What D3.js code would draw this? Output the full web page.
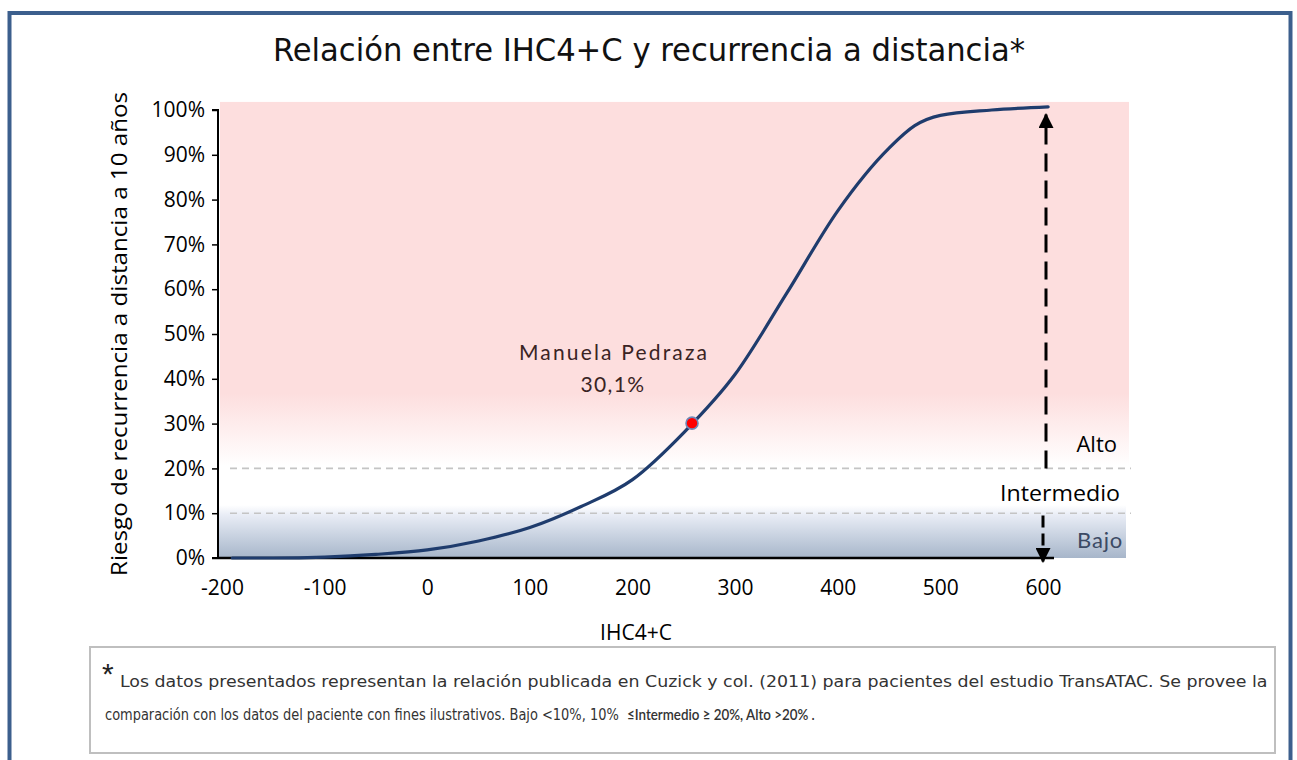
<!DOCTYPE html>
<html>
<head>
<meta charset="utf-8">
<script src="https://cdn.jsdelivr.net/npm/d3@7"></script>
<style>
  html, body { margin: 0; padding: 0; background: #ffffff; }
  svg { display: block; }
</style>
</head>
<body>
<svg id="chart" width="1297" height="760"></svg>
<script>
// ---- data ----
const titleText = "Relación entre IHC4+C y recurrencia a distancia*";
const xLabel = "IHC4+C";
const yLabel = "Riesgo de recurrencia a distancia a 10 años";
const xTicks = [-200, -100, 0, 100, 200, 300, 400, 500, 600];
const yTicks = [0, 10, 20, 30, 40, 50, 60, 70, 80, 90, 100];
const ihcValues = [-190, -150, -100, -50, 0, 50, 100, 150, 200, 250, 300, 350, 400, 450, 475, 500, 550, 605];
const riskValues = [0, 0, 0.2, 0.8, 1.8, 3.8, 6.8, 11.5, 17.5, 28, 41, 59, 77.5, 91.5, 96.5, 98.8, 100, 100.7];
const patientName = "Manuela Pedraza";
const patientLabel = "30,1%";
const patientIhc = 258;
const patientRisk = 30.1;
const thresholds = [10, 20];
const zoneNames = ["Alto", "Intermedio", "Bajo"];
const arrowsFrom = [20, 9.5];
const arrowsTo = [99, -0.8];
const footLine1 = "Los datos presentados representan la relación publicada en Cuzick y col. (2011) para pacientes del estudio TransATAC. Se provee  la";
const footLine2a = "comparación con los datos del paciente con fines ilustrativos. Bajo <10%, 10%";
const footLine2b = "≤Intermedio ≥ 20%, Alto >20% .";

// ---- layout ----
const svg = d3.select("#chart");
const x = d3.scaleLinear().domain([-200, 600]).range([222, 1043]);
const y = d3.scaleLinear().domain([0, 100]).range([558, 110]);
const axisX0 = 218;
const mainFont = "'Open Sans','Noto Sans',sans-serif";
const narrowFont = "'Liberation Sans Narrow','DejaVu Sans Condensed','DejaVu Sans',sans-serif";

// squeeze a text horizontally to a target width (keeps real text)
function fitWidth(sel, x0, y0, target) {
  sel.attr("x", 0).attr("y", 0);
  const w = sel.node().getComputedTextLength();
  const s = w > 0 ? target / w : 1;
  sel.attr("transform", `translate(${x0},${y0}) scale(${s},1)`);
  return sel;
}

const defs = svg.append("defs");
const pink = defs.append("linearGradient").attr("id", "pinkGrad").attr("x1", 0).attr("y1", 0).attr("x2", 0).attr("y2", 1);
pink.append("stop").attr("offset", "0").attr("stop-color", "#fddede");
pink.append("stop").attr("offset", "0.8").attr("stop-color", "#fddede");
pink.append("stop").attr("offset", "1").attr("stop-color", "#ffffff");
const blue = defs.append("linearGradient").attr("id", "blueGrad").attr("x1", 0).attr("y1", 0).attr("x2", 0).attr("y2", 1);
blue.append("stop").attr("offset", "0").attr("stop-color", "#ffffff");
blue.append("stop").attr("offset", "0.18").attr("stop-color", "#e9edf6");
blue.append("stop").attr("offset", "1").attr("stop-color", "#a7b6ca");
defs.append("marker").attr("id", "arrowHead").attr("viewBox", "0 0 10 10")
  .attr("refX", 9).attr("refY", 5).attr("markerWidth", 5).attr("markerHeight", 5)
  .attr("markerUnits", "strokeWidth").attr("orient", "auto")
  .append("path").attr("d", "M0,0 L10,5 L0,10 Z").attr("fill", "#000");

// outer frame
svg.append("rect").attr("x", 9.5).attr("y", 13).attr("width", 1281).attr("height", 800)
  .attr("fill", "none").attr("stroke", "#3c5f8d").attr("stroke-width", 4);

// title
svg.append("text").attr("x", 649).attr("y", 61).attr("text-anchor", "middle")
  .attr("font-family", narrowFont)
  .attr("font-size", 32).attr("fill", "#111")
  .attr("textLength", 752).attr("lengthAdjust", "spacingAndGlyphs")
  .text(titleText);

// background zones
svg.append("rect").attr("x", 220).attr("y", y(101.8)).attr("width", 1129 - 220)
  .attr("height", y(20.5) - y(101.8)).attr("fill", "url(#pinkGrad)");
svg.append("rect").attr("x", axisX0).attr("y", y(11.8)).attr("width", 1126 - axisX0)
  .attr("height", y(0) - y(11.8)).attr("fill", "url(#blueGrad)");

// dashed thresholds
svg.selectAll("line.thr").data(thresholds).join("line").attr("class", "thr")
  .attr("x1", 230).attr("x2", 1131).attr("y1", d => y(d)).attr("y2", d => y(d))
  .attr("stroke", "#c4c4c4").attr("stroke-width", 1.6).attr("stroke-dasharray", "7,5");

// y axis
const yAxis = d3.axisLeft(y).tickValues(yTicks).tickFormat(d => d + "%").tickSize(6).tickPadding(7);
const gy = svg.append("g").attr("transform", `translate(${axisX0},0)`).call(yAxis);
gy.select(".domain").attr("stroke", "#000").attr("stroke-width", 2).attr("d", `M-6,${y(100)}H0V${y(0)}H-6`);
gy.selectAll(".tick line").attr("stroke", "#000").attr("stroke-width", 1.5);
gy.selectAll(".tick text").attr("font-family", mainFont)
  .attr("font-size", 21).attr("fill", "#000");

// x axis
const xAxis = d3.axisBottom(x).tickValues(xTicks).tickFormat(d => String(d)).tickSize(0).tickPadding(22);
const gx = svg.append("g").attr("transform", `translate(0,${y(0)})`).call(xAxis);
gx.select(".domain").remove();
gx.selectAll(".tick text").attr("font-family", mainFont)
  .attr("font-size", 21).attr("fill", "#000");
svg.append("line").attr("x1", axisX0).attr("x2", 1054).attr("y1", y(0)).attr("y2", y(0))
  .attr("stroke", "#000").attr("stroke-width", 2.5);

// axis titles
svg.append("text").attr("x", 636).attr("y", 640).attr("text-anchor", "middle")
  .attr("font-family", mainFont).attr("font-size", 21).attr("fill", "#000")
  .text(xLabel);
svg.append("text").attr("transform", `translate(127,${334}) rotate(-90)`).attr("text-anchor", "middle")
  .attr("font-family", mainFont).attr("font-size", 21).attr("fill", "#000")
  .attr("textLength", 484).attr("lengthAdjust", "spacingAndGlyphs")
  .text(yLabel);

// curve
const pts = ihcValues.map((v, i) => [v, riskValues[i]]);
const line = d3.line().x(d => x(d[0])).y(d => y(d[1])).curve(d3.curveMonotoneX);
svg.append("path").datum(pts).attr("d", line).attr("fill", "none")
  .attr("stroke", "#1f3c6d").attr("stroke-width", 3.2).attr("stroke-linecap", "round");

// arrows
arrowsFrom.forEach((f, i) => {
  svg.append("line").attr("x1", x(600) + (i === 0 ? 3 : 0)).attr("x2", x(600) + (i === 0 ? 3 : 0))
    .attr("y1", y(f)).attr("y2", y(arrowsTo[i]))
    .attr("stroke", "#000").attr("stroke-width", 3)
    .attr("stroke-dasharray", i === 0 ? "18,9" : "12,6")
    .attr("marker-end", "url(#arrowHead)");
});

// zone labels
svg.append("text").attr("x", 1117).attr("y", y(20) - 16).attr("text-anchor", "end")
  .attr("font-family", mainFont).attr("font-size", 22).attr("fill", "#000")
  .text(zoneNames[0]);
svg.append("text").attr("x", 1120).attr("y", y(10) - 12).attr("text-anchor", "end")
  .attr("font-family", mainFont).attr("font-size", 22).attr("fill", "#000")
  .attr("textLength", 120).attr("lengthAdjust", "spacingAndGlyphs")
  .text(zoneNames[1]);
svg.append("text").attr("x", 1123).attr("y", y(0) - 10).attr("text-anchor", "end")
  .attr("font-family", "'Lato','Open Sans',sans-serif").attr("font-size", 22).attr("fill", "#3c4a64")
  .attr("letter-spacing", 0.8)
  .text(zoneNames[2]);

// patient point and annotation
svg.append("circle").attr("cx", x(patientIhc)).attr("cy", y(patientRisk)).attr("r", 6)
  .attr("fill", "#ff0000").attr("stroke", "#7088b8").attr("stroke-width", 1.6);
svg.append("text").attr("x", 613).attr("y", 360).attr("text-anchor", "middle")
  .attr("font-family", "'Lato','Open Sans',sans-serif").attr("font-size", 21).attr("fill", "#3a2424")
  .attr("textLength", 188).attr("lengthAdjust", "spacing").text(patientName);
svg.append("text").attr("x", 613).attr("y", 392).attr("text-anchor", "middle")
  .attr("font-family", "'Lato','Open Sans',sans-serif").attr("font-size", 21).attr("fill", "#3a2424")
  .attr("letter-spacing", 1.4).text(patientLabel);

// footnote box
svg.append("rect").attr("x", 90).attr("y", 647).attr("width", 1185).attr("height", 106)
  .attr("fill", "#fff").attr("stroke", "#bfbfbf").attr("stroke-width", 2);
svg.append("text").attr("x", 102).attr("y", 684)
  .attr("font-family", "'Liberation Sans','Open Sans',sans-serif").attr("font-size", 30).attr("fill", "#222")
  .text("*");
fitWidth(svg.append("text")
  .attr("font-family", narrowFont)
  .attr("font-size", 16.5).attr("fill", "#333")
  .text(footLine1), 120, 687, 1148);
fitWidth(svg.append("text")
  .attr("font-family", narrowFont)
  .attr("font-size", 16.5).attr("fill", "#333")
  .text(footLine2a), 105, 720, 514);
fitWidth(svg.append("text")
  .attr("font-family", "'Lato','Open Sans',sans-serif").attr("font-weight", 600)
  .attr("font-size", 15).attr("fill", "#333")
  .text(footLine2b), 627, 720, 188);
</script>
</body>
</html>
